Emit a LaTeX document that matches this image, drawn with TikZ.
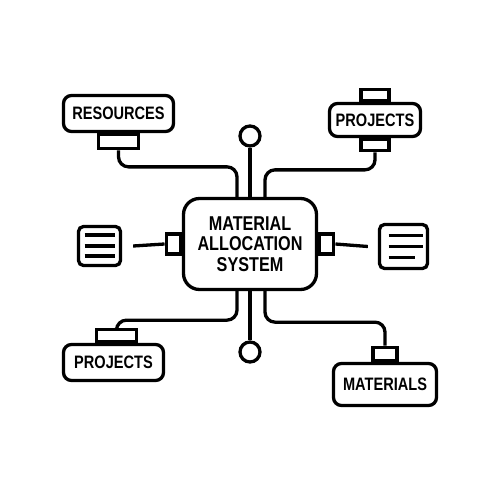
\documentclass[tikz,border=0pt]{standalone}
\usepackage{fontspec}
\newfontfamily\lblfont[FakeStretch=0.81]{Liberation Sans}
\usetikzlibrary{positioning}
\tikzset{
    box/.style={draw, line width=3.3pt, rounded corners=8pt, inner sep=0pt,
        font=\lblfont\bfseries\fontsize{18}{20}\selectfont},
    stub/.style={draw, line width=3.3pt, inner sep=0pt},
    wire/.style={line width=3.3pt, rounded corners=10pt},
    pin/.style={draw, circle, line width=3.3pt, minimum size=20pt, inner sep=0pt},
    doc/.style={draw, line width=3.3pt, rounded corners=5pt, inner sep=0pt},
}
\begin{document}
\begin{tikzpicture}[x=1pt, y=-1pt]
    \useasboundingbox (0,0) rectangle (500,500);
    \node[box, rounded corners=16pt, minimum width=133pt, minimum height=91pt, align=center,
        font=\lblfont\bfseries\fontsize{20}{20.5}\selectfont] (mas) at (250,244) {MATERIAL\\ALLOCATION\\SYSTEM};
    \node[pin] (topPin) at (250,136) {};
    \node[pin] (botPin) at (250,352) {};
    \coordinate (pinL) at (237,0);
    \coordinate (pinR) at (265,0);
    \draw[line width=3.3pt] (topPin) -- (mas.north);
    \draw[line width=3.3pt] (botPin) -- (mas.south);
    % top left
    \node[box, minimum width=110pt, minimum height=36pt] (res) at (118.5,113.5) {RESOURCES};
    \node[stub, minimum width=40pt, minimum height=14pt, anchor=north] (resStub) at (res.south) {};
    \draw[wire] (resStub.south) |- ([yshift=30pt]mas.north -| pinL) -- (mas.north -| pinL);
    % top right
    \node[box, minimum width=91pt, minimum height=33pt] (projTop) at (375,120) {PROJECTS};
    \node[stub, minimum width=28pt, minimum height=11pt, anchor=south] (projTopCap) at (projTop.north) {};
    \node[stub, minimum width=28pt, minimum height=11pt, anchor=north] (projTopStub) at (projTop.south) {};
    \draw[wire] (projTopStub.south) |- ([yshift=27pt]mas.north -| pinR) -- (mas.north -| pinR);
    % bottom left
    \node[box, minimum width=100pt, minimum height=36pt] (projBot) at (113.5,362.5) {PROJECTS};
    \node[stub, minimum width=40pt, minimum height=12pt, anchor=south] (projBotStub) at ([xshift=3pt]projBot.north) {};
    \draw[wire] (projBotStub.north) |- ([yshift=-29pt]mas.south -| pinL) -- (mas.south -| pinL);
    % bottom right
    \node[box, minimum width=103pt, minimum height=42pt] (mat) at (385,384.5) {MATERIALS};
    \node[stub, minimum width=24pt, minimum height=13pt, anchor=south] (matStub) at (mat.north) {};
    \draw[wire] (matStub.north) |- ([yshift=-31pt]mas.south -| pinR) -- (mas.south -| pinR);
    % side documents
    \node[stub, minimum width=14pt, minimum height=20pt, anchor=east] (lStub) at (mas.west) {};
    \node[stub, minimum width=14pt, minimum height=20pt, anchor=west] (rStub) at (mas.east) {};
    \node[doc, minimum width=42pt, minimum height=39pt] (docL) at (99.5,246) {};
    \node[doc, minimum width=48pt, minimum height=44pt] (docR) at (403.5,246.5) {};
    \draw[line width=3.3pt] ([xshift=11pt]docL.east) -- (lStub.west);
    \draw[line width=3.3pt] (rStub.east) -- ([xshift=-10pt]docR.west);
    \foreach \dy in {11,0,-10}
        \draw[line width=3.3pt] ([xshift=-15pt, yshift=\dy pt]docL.center) -- ++(30,0);
    \draw[line width=3.3pt] ([xshift=-15pt, yshift=11pt]docR.center) -- ++(34,0);
    \draw[line width=3.3pt] ([xshift=-15pt]docR.center) -- ++(34,0);
    \draw[line width=3.3pt] ([xshift=-15pt, yshift=-11pt]docR.center) -- ++(26,0);
\end{tikzpicture}
\end{document}
